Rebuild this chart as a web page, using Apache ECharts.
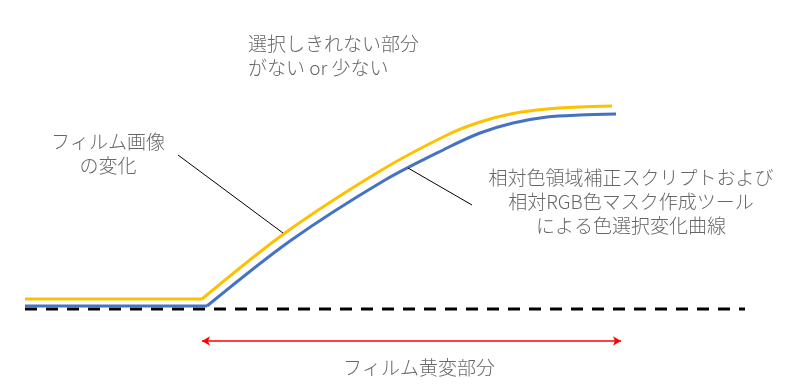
<!DOCTYPE html>
<html>
<head>
<meta charset="utf-8">
<script src="https://cdn.jsdelivr.net/npm/echarts@6/dist/echarts.min.js"></script>
<style>
  html, body { margin: 0; padding: 0; background: #fff; }
  #chart { width: 804px; height: 386px; }
</style>
</head>
<body>
<div id="chart"></div>
<script>
// Diagram space: x runs 0..804 to the right, y runs 0..386 downward.
const filmFlat   = [[25, 299], [202, 299]];
const filmCurve  = [[202, 299], [285, 233], [380, 171], [447, 135], [480, 122], [513, 113.5],
                    [547, 109], [580, 107], [612, 106]];
const toolFlat   = [[25, 306], [207, 306]];
const toolCurve  = [[207, 306], [290, 241], [385, 180], [447, 148], [480, 133], [513, 123],
                    [547, 117], [580, 115], [616, 114]];
const baseline   = [[25, 309], [745, 309]];
const spanArrow  = [[202, 341], [621, 341]];
const leaderFilm = [[178, 155], [283, 233]];
const leaderTool = [[408, 168], [472, 205]];

const labelTexts = [
  '選択しきれない部分\nがない or 少ない',
  'フィルム画像\nの変化',
  '相対色領域補正スクリプトおよび\n相対RGB色マスク作成ツール\nによる色選択変化曲線',
  'フィルム黄変部分'
];
const labelAnchors = [[248, 55.5], [108, 154], [631, 201.5], [419, 368]];
const labelAligns  = ['left', 'center', 'center', 'center'];

const YELLOW = '#FFC000';
const BLUE = '#4472C4';
const TEXT = '#404040';
const FONT = '"Noto Sans CJK JP", "Noto Sans", sans-serif';

function plainLine(data, color, width, extra) {
  return Object.assign({
    type: 'line',
    data: data,
    symbol: 'none',
    silent: true,
    lineStyle: { color: color, width: width, cap: 'butt', join: 'miter' }
  }, extra || {});
}

const chart = echarts.init(document.getElementById('chart'), null, { renderer: 'canvas' });
chart.setOption({
  animation: false,
  backgroundColor: '#ffffff',
  grid: { left: 0, right: 0, top: 0, bottom: 0 },
  xAxis: { type: 'value', min: 0, max: 804, show: false },
  yAxis: { type: 'value', min: 0, max: 386, inverse: true, show: false },
  series: [
    plainLine(baseline, '#000000', 3, { lineStyle: { color: '#000', width: 3, type: [12, 9], cap: 'butt' }, z: 1 }),
    plainLine(filmFlat, YELLOW, 3, { z: 3 }),
    plainLine(filmCurve, YELLOW, 3, { smooth: 0.3, z: 3 }),
    plainLine(toolFlat, BLUE, 3, { z: 2 }),
    plainLine(toolCurve, BLUE, 3, { smooth: 0.3, z: 2 }),
    plainLine(leaderFilm, '#000000', 1, { z: 4 }),
    plainLine(leaderTool, '#000000', 1, { z: 4 }),
    {
      type: 'line',
      data: [],
      silent: true,
      markLine: {
        silent: true,
        symbol: ['arrow', 'arrow'],
        symbolSize: [7, 8],
        label: { show: false },
        lineStyle: { color: '#FF0000', width: 1.5, type: 'solid' },
        data: [[{ coord: spanArrow[0] }, { coord: spanArrow[1] }]]
      }
    },
    {
      type: 'scatter',
      symbolSize: 0,
      silent: true,
      data: labelAnchors.map((p, i) => ({
        value: [p[0], p[1]],
        label: {
          show: true,
          position: 'inside',
          formatter: labelTexts[i],
          align: labelAligns[i],
          verticalAlign: 'middle',
          color: TEXT,
          fontFamily: FONT,
          fontWeight: 300,
          fontSize: 19,
          lineHeight: 24
        }
      }))
    }
  ]
});
</script>
</body>
</html>
